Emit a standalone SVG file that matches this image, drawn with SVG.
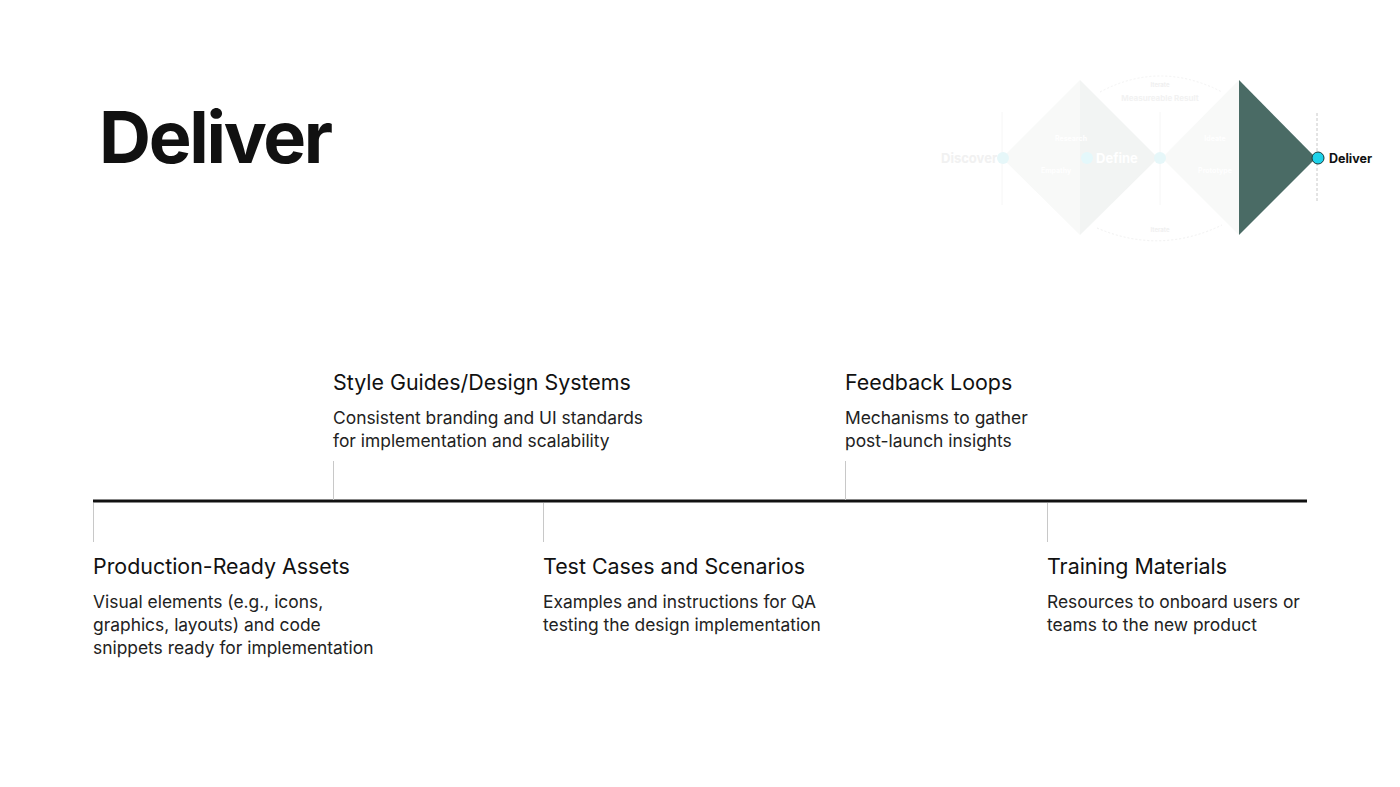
<svg xmlns="http://www.w3.org/2000/svg" width="1400" height="787" viewBox="0 0 1400 787">
<style>
.t{font-family:Inter,"Noto Sans",sans-serif;fill:#111}
.h{font-size:21.4px}
.d{font-size:17.4px;fill:#222}
.tick{stroke:#c8c8c8;stroke-width:1}
.fade{font-family:Inter,"Noto Sans",sans-serif;font-weight:700}
</style>
<rect width="1400" height="787" fill="#fff"/>
<g id="title"><text class="t" x="99" y="163" font-size="72" font-weight="700" letter-spacing="-2.3" fill="#050505">Deliver</text></g>
<g id="mini-diagram">
<line x1="1002" y1="112" x2="1002" y2="205" stroke="#f6f6f6" stroke-width="1"/>
<line x1="1160" y1="112" x2="1160" y2="205" stroke="#f6f6f6" stroke-width="1"/>
<path d="M1100 92 Q1160 60 1222 92" fill="none" stroke="#f3f3f3" stroke-dasharray="2 2"/>
<path d="M1097 228 Q1160 255 1222 225" fill="none" stroke="#f1f1f1" stroke-dasharray="2 2"/>
<polygon points="1080,80 1080,235 1002,158" fill="#f8f9f8"/>
<polygon points="1080,80 1158,158 1080,235" fill="#f2f4f3"/>
<polygon points="1239,80 1239,235 1162,158" fill="#f8f9f8"/>
<polygon points="1239,80 1316,158 1239,235" fill="#4a6b65"/>
<line x1="1317" y1="113" x2="1317" y2="202" stroke="#c8c8c8" stroke-width="1" stroke-dasharray="3 2"/>
<circle cx="1003" cy="158" r="6" fill="#e6f7f9"/>
<circle cx="1087" cy="158" r="6" fill="#e4f8fb"/>
<circle cx="1160" cy="158" r="6" fill="#e6f7f9"/>
<text class="fade" x="941" y="163" font-size="13" fill="#f1f1f1">Discover</text>
<text class="fade" x="1096" y="163" font-size="13" fill="#ffffff">Define</text>
<text class="fade" x="1160" y="87" font-size="6" fill="#f0f0f0" text-anchor="middle">Iterate</text>
<text class="fade" x="1160" y="101" font-size="8" fill="#f2f2f2" text-anchor="middle">Measureable Result</text>
<text class="fade" x="1160" y="232" font-size="6" fill="#f0f0f0" text-anchor="middle">Iterate</text>
<text class="fade" x="1071" y="141" font-size="7" fill="#ffffff" text-anchor="middle">Research</text>
<text class="fade" x="1056" y="173" font-size="7" fill="#ffffff" text-anchor="middle">Empathy</text>
<text class="fade" x="1215" y="141" font-size="7" fill="#ffffff" text-anchor="middle">Ideate</text>
<text class="fade" x="1215" y="173" font-size="7" fill="#ffffff" text-anchor="middle">Prototype</text>
<circle cx="1318" cy="158" r="6" fill="#1ed2ea" stroke="#1a3a3a" stroke-width="1"/>
<text class="t" x="1329" y="163" font-size="12.5" font-weight="700">Deliver</text>
</g>
<g id="connectors">
<line x1="93" y1="501" x2="1307" y2="501" stroke="#111" stroke-width="3"/>
<line class="tick" x1="333.5" y1="461" x2="333.5" y2="500"/>
<line class="tick" x1="845.5" y1="461" x2="845.5" y2="500"/>
<line class="tick" x1="93.5" y1="503" x2="93.5" y2="542"/>
<line class="tick" x1="543.5" y1="503" x2="543.5" y2="542"/>
<line class="tick" x1="1047.5" y1="503" x2="1047.5" y2="542"/>
</g>
<g id="node-style-guides">
<text class="t h" x="333" y="390">Style Guides/Design Systems</text>
<text class="t d" x="333" y="424">Consistent branding and UI standards</text>
<text class="t d" x="333" y="447">for implementation and scalability</text>
</g>
<g id="node-feedback">
<text class="t h" x="845" y="390">Feedback Loops</text>
<text class="t d" x="845" y="424">Mechanisms to gather</text>
<text class="t d" x="845" y="447">post-launch insights</text>
</g>
<g id="node-production">
<text class="t h" x="93" y="574">Production-Ready Assets</text>
<text class="t d" x="93" y="608">Visual elements (e.g., icons,</text>
<text class="t d" x="93" y="631">graphics, layouts) and code</text>
<text class="t d" x="93" y="654">snippets ready for implementation</text>
</g>
<g id="node-test">
<text class="t h" x="543" y="574">Test Cases and Scenarios</text>
<text class="t d" x="543" y="608">Examples and instructions for QA</text>
<text class="t d" x="543" y="631">testing the design implementation</text>
</g>
<g id="node-training">
<text class="t h" x="1047" y="574">Training Materials</text>
<text class="t d" x="1047" y="608">Resources to onboard users or</text>
<text class="t d" x="1047" y="631">teams to the new product</text>
</g>
</svg>
